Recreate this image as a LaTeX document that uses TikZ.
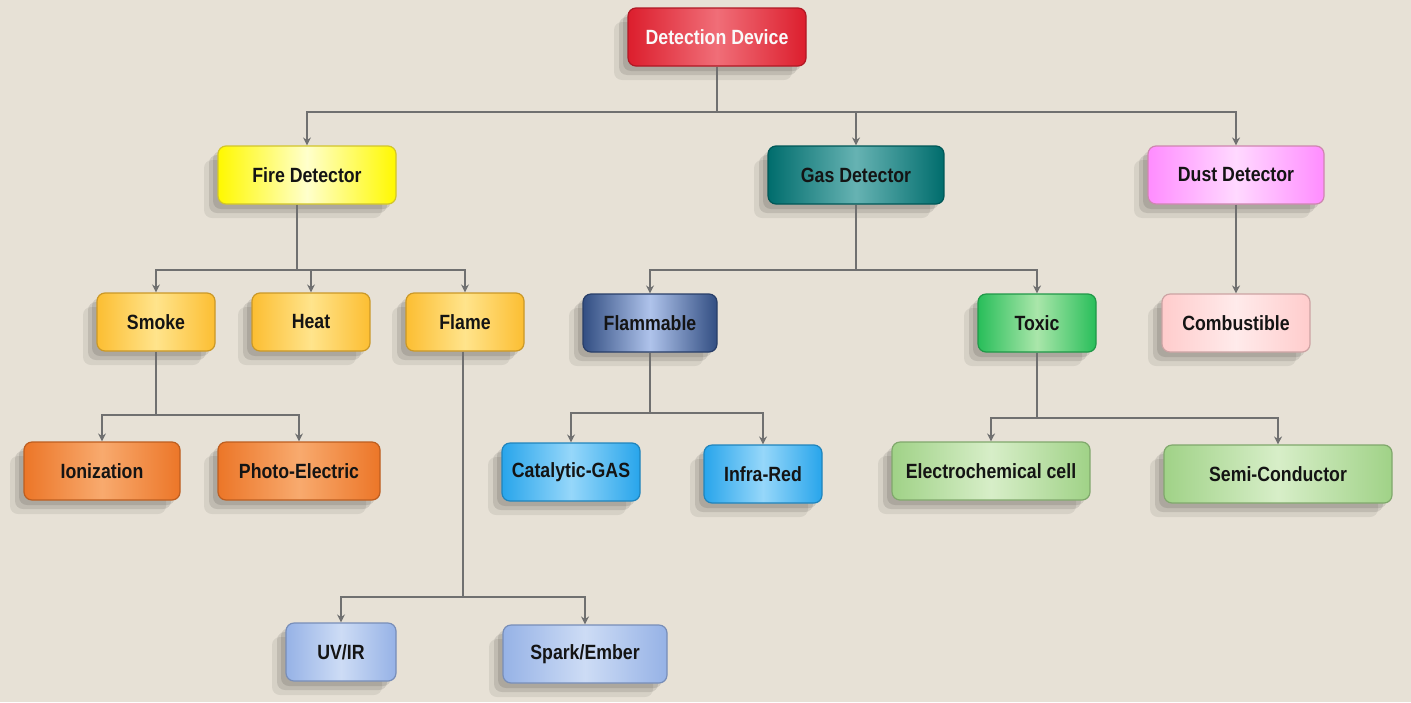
\documentclass[tikz,border=0pt]{standalone}
\usepackage{fontspec}
\setmainfont{Liberation Sans}[FakeStretch=0.86]
\usetikzlibrary{shadows,arrows.meta}
\definecolor{bg}{RGB}{231,225,214}
\definecolor{lin}{RGB}{112,112,112}
\tikzset{
  x=0.5pt,y=-0.5pt,
  box/.style={rounded corners=4pt, minimum height=29pt, inner sep=1pt,
    font=\bfseries\fontsize{10.3}{12}\selectfont, text=black!92,
    drop shadow={shadow xshift=-7pt,shadow yshift=-7pt,opacity=0.07,fill=black},
    drop shadow={shadow xshift=-4.5pt,shadow yshift=-4.5pt,opacity=0.10,fill=black},
    drop shadow={shadow xshift=-2.5pt,shadow yshift=-2.5pt,opacity=0.10,fill=black},
    line width=0.6pt},
  shade3/.style n args={3}{left color=#1, right color=#3, middle color=#2, draw=#1!80!black},
  conn/.style={draw=lin, line width=1.1pt},
  arr/.style={conn, -{Stealth[length=4pt,width=4pt]}},
}
\begin{document}
\begin{tikzpicture}
\fill[bg] (0,0) rectangle (1411,702);
\useasboundingbox (0,0) rectangle (1411,702);
% level 0
\definecolor{rd}{RGB}{220,30,45}
\definecolor{rdlt}{RGB}{240,110,120}
\node[box, minimum width=89pt, shade3={rd}{rdlt}{rd}, text=white!95!gray] (dd) at (717,37) {Detection Device};
% level 1
\node[box, minimum width=89pt, shade3={yellow!95!orange}{yellow!20!white}{yellow!95!orange}] (fd) at (307,175) {Fire Detector};
\node[box, minimum width=88pt, shade3={teal!85!black}{teal!60!white}{teal!85!black}] (gd) at (856,175) {Gas Detector};
\node[box, minimum width=88pt, shade3={magenta!45!white}{magenta!15!white}{magenta!45!white}] (ud) at (1236,175) {Dust Detector};
% level 2
\definecolor{amb}{RGB}{252,190,50}
\definecolor{amblt}{RGB}{255,228,140}
\node[box, minimum width=59pt, shade3={amb}{amblt}{amb}] (sm) at (156,322) {Smoke};
\node[box, minimum width=59pt, shade3={amb}{amblt}{amb}] (he) at (311,322) {Heat};
\node[box, minimum width=59pt, shade3={amb}{amblt}{amb}] (fl) at (465,322) {Flame};
\definecolor{fb}{RGB}{50,78,130}
\definecolor{fblt}{RGB}{175,195,235}
\node[box, minimum width=67pt, shade3={fb}{fblt}{fb}] (fm) at (650,323) {Flammable};
\definecolor{tg}{RGB}{40,190,90}
\definecolor{tglt}{RGB}{170,230,170}
\node[box, minimum width=59pt, shade3={tg}{tglt}{tg}] (tx) at (1037,323) {Toxic};
\node[box, minimum width=74pt, shade3={red!20!white}{red!8!white}{red!20!white}] (cb) at (1236,323) {Combustible};
% level 3
\definecolor{org}{RGB}{236,118,40}
\definecolor{orglt}{RGB}{248,170,110}
\node[box, minimum width=78pt, shade3={org}{orglt}{org}] (io) at (102,471) {Ionization};
\node[box, minimum width=81pt, shade3={org}{orglt}{org}] (pe) at (299,471) {Photo-Electric};
\definecolor{sky}{RGB}{40,165,235}
\definecolor{skylt}{RGB}{150,215,250}
\node[box, minimum width=69pt, shade3={sky}{skylt}{sky}] (cg) at (571,472) {Catalytic-GAS};
\node[box, minimum width=59pt, shade3={sky}{skylt}{sky}] (ir) at (763,474) {Infra-Red};
\definecolor{lg}{RGB}{160,210,135}
\definecolor{lglt}{RGB}{215,238,200}
\node[box, minimum width=99pt, shade3={lg}{lglt}{lg}] (ec) at (991,471) {Electrochemical cell};
\node[box, minimum width=114pt, shade3={lg}{lglt}{lg}] (sc) at (1278,474) {Semi-Conductor};
% level 4
\definecolor{lb}{RGB}{150,178,230}
\definecolor{lblt}{RGB}{205,220,245}
\node[box, minimum width=55pt, shade3={lb}{lblt}{lb}] (uv) at (341,652) {UV/IR};
\node[box, minimum width=82pt, shade3={lb}{lblt}{lb}] (sp) at (585,654) {Spark/Ember};
% bus coordinates
\coordinate (b0) at (717,112);
\coordinate (b1) at (297,270);
\coordinate (b2) at (856,270);
\coordinate (b3) at (156,415);
\coordinate (b4) at (463,597);
\coordinate (b5) at (650,413);
\coordinate (b6) at (1037,418);
% connectors
\draw[conn] (dd) -- (b0);
\draw[arr] (b0) -| (fd);
\draw[arr] (b0) -| (gd);
\draw[arr] (b0) -| (ud);
\draw[conn] (fd.south -| b1) -- (b1);
\draw[arr] (b1) -| (sm);
\draw[arr] (b1) -| (he);
\draw[arr] (b1) -| (fl);
\draw[conn] (gd) -- (b2);
\draw[arr] (b2) -| (fm);
\draw[arr] (b2) -| (tx);
\draw[arr] (ud) -- (cb);
\draw[conn] (sm) -- (b3);
\draw[arr] (b3) -| (io);
\draw[arr] (b3) -| (pe);
\draw[conn] (fl.south -| b4) -- (b4);
\draw[arr] (b4) -| (uv);
\draw[arr] (b4) -| (sp);
\draw[conn] (fm) -- (b5);
\draw[arr] (b5) -| (cg);
\draw[arr] (b5) -| (ir);
\draw[conn] (tx) -- (b6);
\draw[arr] (b6) -| (ec);
\draw[arr] (b6) -| (sc);
\end{tikzpicture}
\end{document}
